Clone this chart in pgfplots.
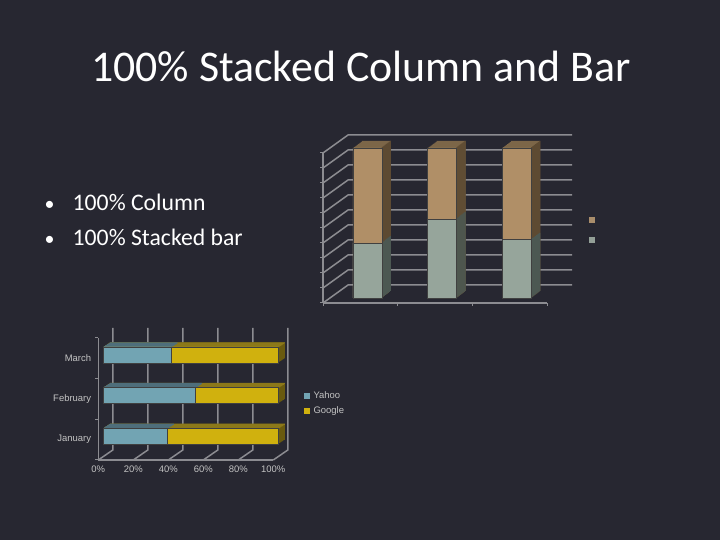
\documentclass[border=0pt]{standalone}
\usepackage{pgfplots}
\pgfplotsset{compat=1.18}
\usepackage{pgfplotstable}
\usepackage{fontspec}
\setmainfont{Carlito}
\newfontfamily\arialf{Liberation Sans}

\definecolor{bgc}{RGB}{39,39,49}
\definecolor{gridc}{RGB}{140,140,145}
\definecolor{labc}{RGB}{195,195,195}
\definecolor{greenFront}{RGB}{150,165,155}
\definecolor{greenSide}{RGB}{76,88,82}
\definecolor{tanFront}{RGB}{176,143,103}
\definecolor{tanTop}{RGB}{124,102,72}
\definecolor{tanSide}{RGB}{93,74,50}
\definecolor{yahooFront}{RGB}{114,164,179}
\definecolor{yahooTop}{RGB}{78,110,123}
\definecolor{googleFront}{RGB}{208,177,14}
\definecolor{googleTop}{RGB}{140,120,25}
\definecolor{googleSide}{RGB}{105,90,15}

% share of each search engine per month, in percent
\pgfplotstableread{
x yahoo google
1 36.6 63.4
2 52.6 47.4
3 38.8 61.2
}\datatab

\begin{document}
\begin{tikzpicture}[x=1bp,y=1bp]
\fill[bgc] (0bp,0bp) rectangle (720bp,540bp);
\node[anchor=base, text=white, font=\fontsize{44}{50}\selectfont, inner sep=0pt] at (361bp,458.3bp) {100\% Stacked Column and Bar};
\node[anchor=base, text=white, font=\fontsize{20}{26}\selectfont, inner sep=0pt] at (49.5bp,329bp) {\textbullet};
\node[anchor=base west, text=white, font=\fontsize{23.8}{28}\selectfont, inner sep=0pt] at (72.5bp,329bp) {100\% Column};
\node[anchor=base, text=white, font=\fontsize{20}{26}\selectfont, inner sep=0pt] at (49.5bp,294bp) {\textbullet};
\node[anchor=base west, text=white, font=\fontsize{23.8}{28}\selectfont, inner sep=0pt] at (72.5bp,294bp) {100\% Stacked bar};

% ---------------- top: 100% stacked columns ----------------
\begin{axis}[
  at={(323bp,237bp)}, anchor=south west,
  width=224bp, height=150bp, scale only axis,
  xmin=0.5, xmax=3.5, ymin=0, ymax=100, clip=false,
  axis x line*=bottom, axis y line*=left,
  axis line style={draw=gridc, line width=1.5bp},
  xtick={0.5,1.5,2.5,3.5}, xticklabels={},
  ytick={0,10,...,100}, yticklabels={},
  tick align=outside, major tick length=3bp,
  tick style={draw=gridc, line width=1bp},
  legend style={draw=none, fill=none, at={(1.1875,0.487)}, anchor=west,
    row sep=15bp, inner sep=0pt, nodes={inner sep=0pt}},
]
\pgfplotsinvokeforeach{0,10,...,100}{
  \draw[gridc, line width=1.5bp] (axis cs:0.5,#1) -- ([shift={(25bp,18bp)}]axis cs:0.5,#1) -- ([shift={(25bp,18bp)}]axis cs:3.5,#1);
}
\pgfplotsinvokeforeach{9,8,...,1}{
  \addplot[forget plot, ybar, bar width=29bp, bar shift=0pt, fill=tanTop, draw=none,
    xshift={7bp+#1*1bp}, yshift={5bp+#1*0.78bp}]
    table[x=x, y expr=\thisrow{yahoo}+\thisrow{google}] {\datatab};
}
\pgfplotsinvokeforeach{1,...,9}{
  \addplot[forget plot, ybar, bar width=1.2bp, bar shift=14bp, fill=tanSide, draw=none,
    xshift={7bp+#1*1bp}, yshift={5bp+#1*0.78bp}]
    table[x=x, y expr=\thisrow{yahoo}+\thisrow{google}] {\datatab};
}
\pgfplotsinvokeforeach{1,...,9}{
  \addplot[forget plot, ybar, bar width=1.2bp, bar shift=14bp, fill=greenSide, draw=none,
    xshift={7bp+#1*1bp}, yshift={5bp+#1*0.78bp}]
    table[x=x, y=yahoo] {\datatab};
}
\addplot[forget plot, ybar, bar width=29bp, bar shift=0pt, fill=tanFront, draw=black!75, line width=0.6bp,
  xshift=7bp, yshift=5bp]
  table[x=x, y expr=\thisrow{yahoo}+\thisrow{google}] {\datatab};
\addplot[forget plot, ybar, bar width=29bp, bar shift=0pt, fill=greenFront, draw=black!75, line width=0.6bp,
  xshift=7bp, yshift=5bp]
  table[x=x, y=yahoo] {\datatab};
\addlegendimage{legend image code/.code={\fill[tanFront!85!gray] (0bp,-2.5bp) rectangle (5bp,2.5bp);}}
\addlegendentry{\phantom{.}}
\addlegendimage{legend image code/.code={\fill[greenFront!85!gray] (0bp,-2.5bp) rectangle (5bp,2.5bp);}}
\addlegendentry{\phantom{.}}
\end{axis}

% ---------------- bottom: 100% stacked bars ----------------
\begin{axis}[
  at={(98.3bp,80bp)}, anchor=south west,
  width=175bp, height=122bp, scale only axis,
  xmin=0, xmax=100, ymin=0.5, ymax=3.5, clip=false,
  axis x line*=bottom, axis y line*=left,
  axis line style={draw=gridc, line width=1.5bp},
  xtick={0,20,...,100}, xticklabels={0\%,20\%,40\%,60\%,80\%,100\%},
  ytick={1,2,3}, yticklabels={January,February,March},
  extra y ticks={0.5,1.5,2.5,3.5}, extra y tick labels={},
  extra y tick style={major tick length=3bp},
  tick align=outside, major tick length=0pt,
  tick style={draw=gridc, line width=1bp},
  tick label style={font=\arialf\fontsize{9.5}{10}\selectfont, text=labc},
  xticklabel style={inner sep=0pt, yshift=-6bp},
  yticklabel style={inner sep=0pt, xshift=-7bp},
  legend style={draw=none, fill=none, at={(1.175,0.467)}, anchor=west,
    font=\arialf\fontsize{9.5}{10}\selectfont, text=labc,
    row sep=7bp, inner sep=0pt, nodes={inner sep=0pt},
    /tikz/every odd column/.append style={column sep=4bp}},
  legend cell align=left,
]
\pgfplotsinvokeforeach{0,20,...,100}{
  \draw[gridc, line width=1.5bp] (axis cs:#1,0.5) -- ([shift={(14.5bp,10bp)}]axis cs:#1,0.5) -- ([shift={(14.5bp,10bp)}]axis cs:#1,3.5);
}
\pgfplotsinvokeforeach{7,6,...,1}{
  \addplot[forget plot, xbar, bar width=16bp, bar shift=0pt, fill=googleSide, draw=none,
    xshift={5bp+#1*0.93bp}, yshift={3.5bp+#1*0.62bp}]
    table[y=x, x expr=\thisrow{yahoo}+\thisrow{google}] {\datatab};
}
\pgfplotsinvokeforeach{1,...,7}{
  \addplot[forget plot, xbar, bar width=1.2bp, bar shift=7.6bp, fill=googleTop, draw=none,
    xshift={5bp+#1*0.93bp}, yshift={3.5bp+#1*0.62bp}]
    table[y=x, x expr=\thisrow{yahoo}+\thisrow{google}] {\datatab};
}
\pgfplotsinvokeforeach{1,...,7}{
  \addplot[forget plot, xbar, bar width=1.2bp, bar shift=7.6bp, fill=yahooTop, draw=none,
    xshift={5bp+#1*0.93bp}, yshift={3.5bp+#1*0.62bp}]
    table[y=x, x=yahoo] {\datatab};
}
\addplot[forget plot, xbar, bar width=16bp, bar shift=0pt, fill=googleFront, draw=black!75, line width=0.6bp,
  xshift=5bp, yshift=3.5bp]
  table[y=x, x expr=\thisrow{yahoo}+\thisrow{google}] {\datatab};
\addplot[forget plot, xbar, bar width=16bp, bar shift=0pt, fill=yahooFront, draw=black!75, line width=0.6bp,
  xshift=5bp, yshift=3.5bp]
  table[y=x, x=yahoo] {\datatab};
\addlegendimage{legend image code/.code={\fill[yahooFront] (0bp,-2.5bp) rectangle (5bp,2.5bp);}}
\addlegendentry{Yahoo}
\addlegendimage{legend image code/.code={\fill[googleFront] (0bp,-2.5bp) rectangle (5bp,2.5bp);}}
\addlegendentry{Google}
\end{axis}
\end{tikzpicture}
\end{document}
